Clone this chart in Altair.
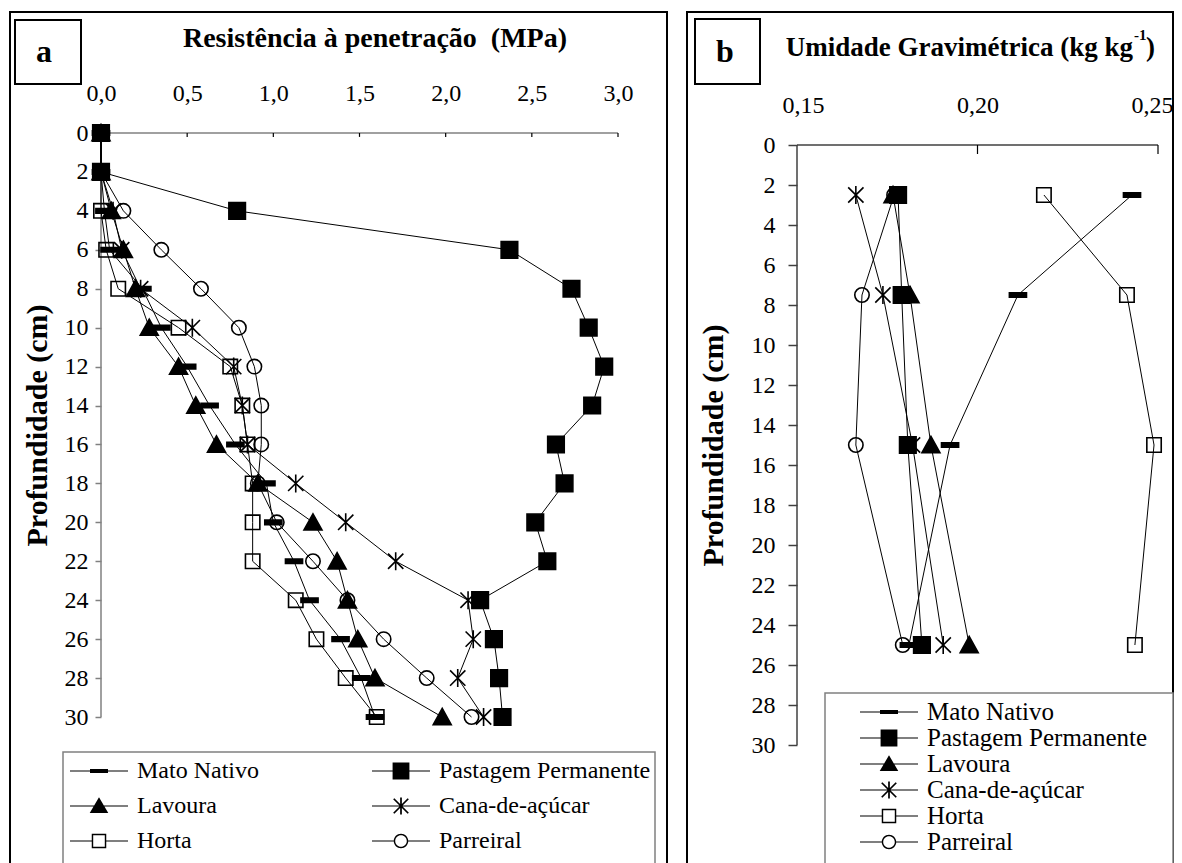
import altair as alt
import pandas as pd

FONT = "Liberation Serif"

series = ["Mato Nativo", "Pastagem Permanente", "Lavoura", "Cana-de-açúcar", "Horta", "Parreiral"]

# ---- Panel a: Resistência à penetração (MPa) ----
depth_a = [0, 2, 4, 6, 8, 10, 12, 14, 16, 18, 20, 22, 24, 26, 28, 30]
mato_a = [0.00, 0.00, 0.02, 0.05, 0.24, 0.35, 0.50, 0.63, 0.78, 0.96, 1.00, 1.12, 1.21, 1.39, 1.51, 1.59]
pastagem_a = [0.00, 0.00, 0.79, 2.37, 2.73, 2.83, 2.92, 2.85, 2.64, 2.69, 2.52, 2.59, 2.20, 2.28, 2.31, 2.33]
lavoura_a = [0.00, 0.00, 0.06, 0.13, 0.20, 0.28, 0.45, 0.55, 0.67, 0.91, 1.23, 1.37, 1.43, 1.49, 1.59, 1.98]
cana_a = [0.00, 0.00, 0.07, 0.12, 0.23, 0.53, 0.77, 0.82, 0.85, 1.13, 1.42, 1.71, 2.13, 2.16, 2.07, 2.22]
horta_a = [0.00, 0.00, 0.00, 0.03, 0.10, 0.45, 0.75, 0.82, 0.85, 0.88, 0.88, 0.88, 1.13, 1.25, 1.42, 1.60]
parreiral_a = [0.00, 0.00, 0.13, 0.35, 0.58, 0.80, 0.89, 0.93, 0.93, 0.91, 1.02, 1.23, 1.43, 1.64, 1.89, 2.15]

# ---- Panel b: Umidade Gravimétrica (kg kg-1) ----
depth_b = [2.5, 7.5, 15, 25]
mato_b = [0.2428, 0.2112, 0.1924, 0.1810]
pastagem_b = [0.1780, 0.1790, 0.1807, 0.1846]
lavoura_b = [0.1766, 0.1813, 0.1871, 0.1977]
cana_b = [0.1663, 0.1738, 0.1820, 0.1905]
horta_b = [0.2184, 0.2414, 0.2489, 0.2436]
parreiral_b = [0.1769, 0.1680, 0.1663, 0.1793]

ticks_a = [0.0, 0.5, 1.0, 1.5, 2.0, 2.5, 3.0]
ticks_b = [0.15, 0.20, 0.25]
depth_ticks = [0, 2, 4, 6, 8, 10, 12, 14, 16, 18, 20, 22, 24, 26, 28, 30]


def long_df(depths, cols):
    rows = []
    for name, vals in zip(series, cols):
        for d, v in zip(depths, vals):
            rows.append({"series": name, "depth": d, "value": v})
    return pd.DataFrame(rows)


df_a = long_df(depth_a, [mato_a, pastagem_a, lavoura_a, cana_a, horta_a, parreiral_a])
df_b = long_df(depth_b, [mato_b, pastagem_b, lavoura_b, cana_b, horta_b, parreiral_b])

# marker shapes in the plot (unit box -1..1)
plot_paths = [
    "M-0.95,-0.25H0.95V0.25H-0.95Z",
    "M-0.92,-0.92H0.92V0.92H-0.92Z",
    "M0,-0.95L1,0.85L-1,0.85Z",
    "M-0.85,-0.85L0.85,0.85M-0.85,0.85L0.85,-0.85M0,-1V1",
    "M-0.8,-0.8H0.8V0.8H-0.8Z",
    "M0.8,0A0.8,0.8,0,1,1,-0.8,0A0.8,0.8,0,1,1,0.8,0Z",
]
plot_fills = ["black", "black", "black", "transparent", "transparent", "transparent"]

# legend symbols: a line plus the marker, all drawn as filled outlines
LINE = "M-1,-0.018H1V0.018H-1Z"
LINE_SPLIT = "M-1,-0.018H-0.25V0.018H-1ZM0.25,-0.018H1V0.018H0.25Z"
legend_paths = [
    LINE + "M-0.31,-0.07H0.31V0.07H-0.31Z",
    LINE + "M-0.29,-0.29H0.29V0.29H-0.29Z",
    LINE + "M0,-0.3L0.32,0.24L-0.32,0.24Z",
    LINE + "M-0.229,-0.271L0.271,0.229L0.229,0.271L-0.271,-0.229Z"
           "M-0.271,0.229L0.229,-0.271L0.271,-0.229L-0.229,0.271Z"
           "M-0.03,-0.29H0.03V0.29H-0.03Z",
    LINE_SPLIT + "M-0.25,-0.25H0.25V0.25H-0.25ZM-0.2,-0.2V0.2H0.2V-0.2Z",
    LINE_SPLIT + "M0.25,0A0.25,0.25,0,1,1,-0.25,0A0.25,0.25,0,1,1,0.25,0Z"
                 "M0.2,0A0.2,0.2,0,1,0,-0.2,0A0.2,0.2,0,1,0,0.2,0Z",
]


def panel(df, xdom, xticks, fmt, w, h, ymin, frame, letter_box, letter, letter_pos,
          title_parts, ytitle_x, ytitle_y, ytick_size, ylabel_pad, xlabel_pad, axis_color,
          legend_box, legend_kw, tick_len, flush):
    one = alt.Data(values=[{}])
    xaxis_kw = dict(
        orient="top", values=xticks, title=None, grid=False, ticks=False, tickSize=0, domain=False,
        labelExpr=f"replace(format(datum.value, '{fmt}'), '.', ',')",
        labelFont=FONT, labelFontSize=24, labelColor="black",
        labelBaseline="alphabetic", labelPadding=xlabel_pad,
    )
    if flush:
        xaxis_kw.update(labelFlush=True, labelFlushOffset=flush)
    else:
        xaxis_kw.update(labelFlush=False)
    x_enc = alt.X(
        "value:Q",
        scale=alt.Scale(domain=xdom, nice=False, zero=False),
        axis=alt.Axis(**xaxis_kw),
    )
    y_enc = alt.Y(
        "depth:Q",
        scale=alt.Scale(domain=[ymin, 30], reverse=True, nice=False, zero=False),
        axis=alt.Axis(
            values=depth_ticks, grid=False, title="Profundidade (cm)", domain=False,
            tickSize=ytick_size, tickColor=axis_color, tickWidth=1.5,
            labelFont=FONT, labelFontSize=24, labelColor="black", labelPadding=ylabel_pad,
            labelFlush=False,
            titleFont=FONT, titleFontSize=30, titleFontWeight="bold", titleColor="black",
            titleAngle=270, titleBaseline="middle", titleAlign="center",
            titleX=ytitle_x, titleY=ytitle_y,
        ),
    )

    def box(coords, fill, width):
        x0, x1, y0, y1 = coords
        return alt.Chart(one).mark_rect(fill=fill, stroke="black" if width >= 2 else "#808080",
                                        strokeWidth=width).encode(
            x=alt.value(x0), x2=alt.value(x1), y=alt.value(y0), y2=alt.value(y1)
        )

    frame_layer = box(frame, "transparent", 2)
    box_layer = box(letter_box, "white", 2)
    legend_box_layer = box(legend_box, "white", 1.5)
    letter_layer = alt.Chart(one).mark_text(
        font=FONT, fontSize=32, fontWeight="bold", color="black", align="center", baseline="alphabetic"
    ).encode(x=alt.value(letter_pos[0]), y=alt.value(letter_pos[1]), text=alt.value(letter))

    title_layers = []
    for txt, tx, ty, size, align in title_parts:
        title_layers.append(
            alt.Chart(one).mark_text(
                font=FONT, fontSize=size, fontWeight="bold", color="black", align=align, baseline="alphabetic"
            ).encode(x=alt.value(tx), y=alt.value(ty), text=alt.value(txt))
        )

    # axis lines (domain) and inward ticks of the top axis
    xline_df = pd.DataFrame({"value": [xdom[0]], "value2": [xdom[1]], "depth": [0]})
    yline_df = pd.DataFrame({"value": [xdom[0]], "depth": [0], "depth2": [30]})
    xline = alt.Chart(xline_df).mark_rule(color=axis_color, strokeWidth=1.5).encode(
        x=x_enc, x2="value2:Q", y=y_enc)
    yline = alt.Chart(yline_df).mark_rule(color=axis_color, strokeWidth=1.5).encode(
        x=x_enc, y=y_enc, y2="depth2:Q")
    tick_df = pd.DataFrame({"value": xticks[1:], "depth": [0] * (len(xticks) - 1),
                            "depth2": [tick_len] * (len(xticks) - 1)})
    tick_layer = alt.Chart(tick_df).mark_rule(color="black", strokeWidth=1.2).encode(
        x=x_enc, y=y_enc, y2="depth2:Q"
    )

    base = alt.Chart(df)
    lines = base.mark_line(color="black", strokeWidth=1).encode(
        x=x_enc, y=y_enc, detail="series:N", order="depth:Q"
    )
    points = base.mark_point(filled=True, stroke="black", strokeWidth=1.6, opacity=1, size=324).encode(
        x=x_enc, y=y_enc,
        shape=alt.Shape("series:N", scale=alt.Scale(domain=series, range=plot_paths), legend=None),
        fill=alt.Fill("series:N", scale=alt.Scale(domain=series, range=plot_fills), legend=None),
    )
    legend_layer = base.transform_filter("datum.depth < -100").mark_point(
        filled=True, color="black", opacity=1
    ).encode(
        x=x_enc, y=y_enc,
        shape=alt.Shape(
            "series:N",
            scale=alt.Scale(domain=series, range=legend_paths),
            legend=alt.Legend(
                title=None, orient="none", symbolSize=3364, clipHeight=26,
                labelFont=FONT, labelColor="black", labelLimit=400,
                symbolFillColor="black", symbolStrokeWidth=0, symbolOpacity=1,
                padding=0, labelOffset=9,
                **legend_kw,
            ),
        ),
    )

    layers = [frame_layer, box_layer, legend_box_layer, letter_layer] + title_layers + \
             [xline, yline, tick_layer, lines, points, legend_layer]
    return alt.layer(*layers).properties(width=w, height=h).resolve_scale(shape="independent")


panel_a = panel(
    df_a, [0, 3], ticks_a, ".1f", 517, 584, 0,
    frame=(-91, 566, -121, 740),
    letter_box=(-86, -20, -113, -49), letter="a", letter_pos=(-57, -71),
    title_parts=[("Resistência à penetração\u00a0 (MPa)", 274, -86, 28, "center")],
    ytitle_x=-64, ytitle_y=292, ytick_size=6, ylabel_pad=7, xlabel_pad=33, axis_color="#808080",
    legend_box=(-38, 554, 619, 745),
    legend_kw=dict(legendX=-31, legendY=625, columns=2, direction="horizontal",
                   columnPadding=113, rowPadding=9, labelFontSize=24),
    tick_len=0.2, flush=0,
)

panel_b = panel(
    df_b, [0.15, 0.25], ticks_b, ".2f", 361, 612, -0.6,
    frame=(-110, 376, -121, 740),
    letter_box=(-102, -37, -114, -49), letter="b", letter_pos=(-72, -71),
    title_parts=[("Umidade Gravimétrica (kg kg", 336, -77, 27, "right"),
                 ("-1", 337, -93, 15, "left"),
                 (")", 349, -77, 27, "left")],
    ytitle_x=-84, ytitle_y=312, ytick_size=9, ylabel_pad=13, xlabel_pad=21, axis_color="#404040",
    legend_box=(28, 376, 560, 745),
    legend_kw=dict(legendX=63, legendY=566, columns=1, direction="vertical",
                   rowPadding=0, labelFontSize=25),
    tick_len=0.45, flush=15,
)

chart = alt.hconcat(panel_a, panel_b, spacing=18).resolve_scale(
    shape="independent", fill="independent"
).properties(
    padding={"left": 1, "top": 3, "right": 0, "bottom": 0}
).configure_view(strokeWidth=0)

chart.save("out.html", embed_options={"renderer": "svg", "actions": False})
